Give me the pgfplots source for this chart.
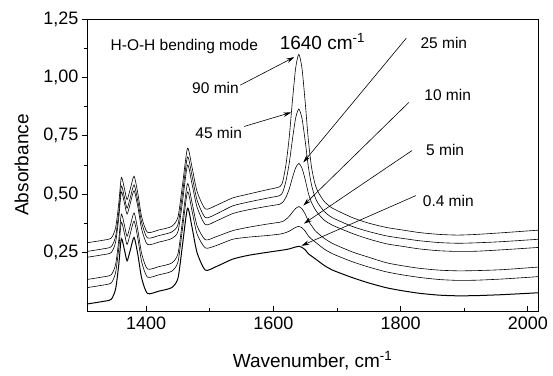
\documentclass[border=0pt]{standalone}
\usepackage{pgfplots}
\pgfplotsset{compat=1.18}
\usepackage{pgfplotstable}
\usepackage{fontspec}
\setmainfont{Liberation Sans}
\usetikzlibrary{arrows.meta}

\pgfplotstableread{
x b c2 c3 c4 c5 c6
1307 0.030 0.100 0.135 0.230 0.255 0.292
1330 0.040 0.110 0.145 0.240 0.265 0.302
1345 0.050 0.120 0.155 0.250 0.275 0.312
1352 0.095 0.165 0.200 0.295 0.320 0.357
1357 0.200 0.270 0.305 0.400 0.425 0.462
1361 0.310 0.380 0.415 0.510 0.535 0.572
1366 0.260 0.330 0.365 0.460 0.485 0.522
1370 0.215 0.285 0.320 0.415 0.440 0.477
1375 0.260 0.330 0.365 0.460 0.485 0.522
1381 0.315 0.385 0.420 0.515 0.540 0.577
1387 0.240 0.310 0.345 0.445 0.470 0.502
1393 0.140 0.210 0.245 0.350 0.378 0.402
1402 0.075 0.145 0.180 0.285 0.313 0.337
1420 0.085 0.155 0.190 0.295 0.323 0.347
1440 0.100 0.170 0.205 0.310 0.338 0.362
1450 0.140 0.210 0.245 0.340 0.370 0.402
1457 0.280 0.350 0.385 0.465 0.500 0.537
1465 0.440 0.510 0.545 0.625 0.660 0.697
1472 0.360 0.430 0.465 0.545 0.580 0.617
1480 0.250 0.330 0.365 0.445 0.475 0.512
1493 0.175 0.270 0.305 0.370 0.400 0.437
1510 0.190 0.280 0.318 0.385 0.415 0.452
1536 0.222 0.307 0.344 0.417 0.450 0.484
1560 0.238 0.316 0.358 0.433 0.466 0.500
1590 0.251 0.323 0.372 0.448 0.483 0.519
1610 0.259 0.329 0.380 0.457 0.494 0.532
1615 0.261 0.332 0.384 0.466 0.511 0.557
1620 0.263 0.336 0.393 0.488 0.559 0.631
1625 0.266 0.342 0.406 0.523 0.634 0.746
1630 0.270 0.350 0.423 0.571 0.736 0.902
1635 0.274 0.358 0.439 0.613 0.826 1.040
1640 0.277 0.362 0.447 0.632 0.865 1.099
1645 0.272 0.356 0.437 0.611 0.824 1.038
1650 0.262 0.342 0.415 0.563 0.728 0.894
1655 0.245 0.321 0.385 0.504 0.617 0.731
1660 0.235 0.308 0.366 0.464 0.539 0.615
1665 0.225 0.297 0.346 0.438 0.491 0.549
1670 0.215 0.286 0.333 0.418 0.462 0.511
1680 0.195 0.265 0.311 0.389 0.426 0.469
1693 0.175 0.245 0.289 0.367 0.399 0.440
1724 0.143 0.211 0.253 0.332 0.362 0.400
1750 0.120 0.188 0.230 0.308 0.340 0.376
1777 0.100 0.168 0.207 0.288 0.322 0.358
1800 0.088 0.156 0.195 0.278 0.312 0.348
1829 0.076 0.144 0.183 0.266 0.301 0.336
1860 0.068 0.135 0.175 0.258 0.293 0.328
1890 0.065 0.131 0.172 0.255 0.290 0.325
1920 0.066 0.132 0.173 0.256 0.292 0.328
1960 0.070 0.137 0.177 0.262 0.297 0.335
2016 0.078 0.147 0.188 0.272 0.307 0.346
}\spectra

\begin{document}
\begin{tikzpicture}
\begin{axis}[
  name=main,
  scale only axis, width=451pt, height=292pt,
  xmin=1307, xmax=2016, ymin=0, ymax=1.25,
  xtick={1400,1600,1800,2000}, minor x tick num=1,
  ytick={0.25,0.5,0.75,1,1.25}, minor y tick num=1,
  tick pos=left,
  xtick align=inside, ytick align=outside,
  major tick length=5pt, minor tick length=3pt,
  tick style={black, line width=0.8pt},
  axis line style={line width=0.9pt},
  /pgf/number format/assume math mode=true,
  y tick label style={/pgf/number format/.cd, use comma, fixed, fixed zerofill, precision=2},
  x tick label style={/pgf/number format/1000 sep={}, yshift=-2pt},
  tick label style={font=\fontsize{18}{20}\selectfont},
  xlabel={Wavenumber, cm\textsuperscript{-1}},
  ylabel={Absorbance},
  label style={font=\fontsize{19}{21}\selectfont},
  x label style={at={(axis description cs:0.5,-0.192)}, anchor=base},
  y label style={at={(axis description cs:-0.13,0.5)}, anchor=base},
  clip=true,
]
\addplot[black, line width=1.0pt, smooth, tension=0.4] table[x=x,y=b]{\spectra};
\addplot[black, line width=0.6pt, smooth, tension=0.4] table[x=x,y=c2]{\spectra};
\addplot[black, line width=0.6pt, smooth, tension=0.4] table[x=x,y=c3]{\spectra};
\addplot[black, line width=0.6pt, smooth, tension=0.4] table[x=x,y=c4]{\spectra};
\addplot[black, line width=0.6pt, smooth, tension=0.4] table[x=x,y=c5]{\spectra};
\addplot[black, line width=0.6pt, smooth, tension=0.4] table[x=x,y=c6]{\spectra};

\node[font=\fontsize{15.5}{17}\selectfont, anchor=base] at (axis cs:1460,1.117) {H-O-H bending mode};
\node[font=\fontsize{19}{21}\selectfont, anchor=base] at (axis cs:1677,1.121) {1640 cm\textsuperscript{-1}};
\node[font=\fontsize{15.5}{17}\selectfont, anchor=base] at (axis cs:1509,0.932) {90 min};
\node[font=\fontsize{15.5}{17}\selectfont, anchor=base] at (axis cs:1514,0.739) {45 min};
\node[font=\fontsize{15.5}{17}\selectfont, anchor=base] at (axis cs:1868,1.125) {25 min};
\node[font=\fontsize{15.5}{17}\selectfont, anchor=base] at (axis cs:1874,0.902) {10 min};
\node[font=\fontsize{15.5}{17}\selectfont, anchor=base] at (axis cs:1870,0.666) {5 min};
\node[font=\fontsize{15.5}{17}\selectfont, anchor=base] at (axis cs:1875,0.447) {0.4 min};

\draw[line width=0.6pt, -{Stealth[length=8pt,width=4.5pt]}] (axis cs:1548,0.967) -- (axis cs:1633,1.087);
\draw[line width=0.6pt, -{Stealth[length=8pt,width=4.5pt]}] (axis cs:1554,0.790) -- (axis cs:1628,0.850);
\draw[line width=0.6pt, -{Stealth[length=8pt,width=4.5pt]}] (axis cs:1809,1.168) -- (axis cs:1647,0.636);
\draw[line width=0.6pt, -{Stealth[length=8pt,width=4.5pt]}] (axis cs:1813,0.893) -- (axis cs:1647,0.451);
\draw[line width=0.6pt, -{Stealth[length=8pt,width=4.5pt]}] (axis cs:1818,0.687) -- (axis cs:1648,0.374);
\draw[line width=0.6pt, -{Stealth[length=8pt,width=4.5pt]}] (axis cs:1824,0.494) -- (axis cs:1644,0.279);
\end{axis}
\pgfresetboundingbox
\path[use as bounding box] ([xshift=-87pt,yshift=-64pt]main.south west) rectangle ([xshift=15pt,yshift=19pt]main.north east);
\end{tikzpicture}
\end{document}
